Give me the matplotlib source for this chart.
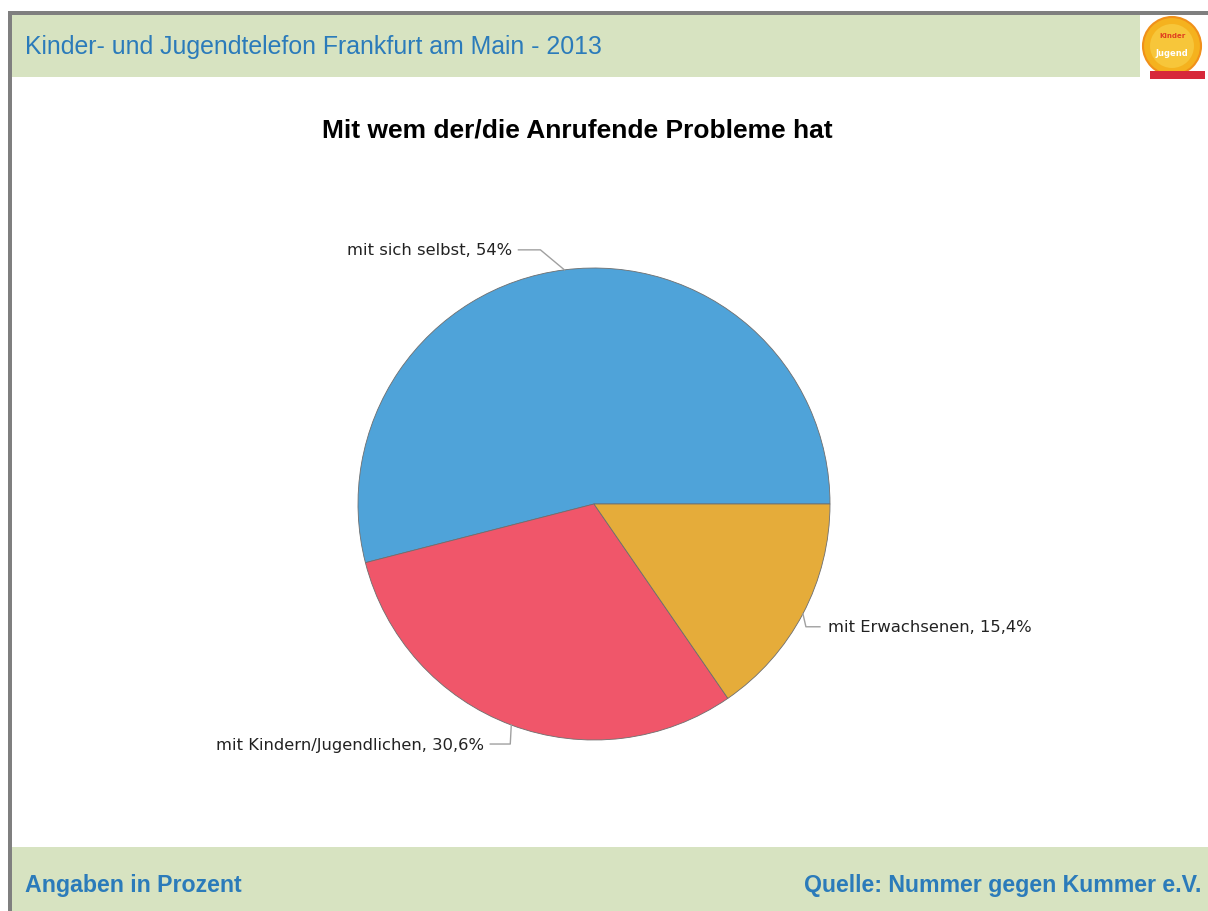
import numpy as np
import matplotlib
matplotlib.use("Agg")
import matplotlib.pyplot as plt
from matplotlib.patches import Rectangle, Circle

categories = ["mit sich selbst", "mit Kindern/Jugendlichen", "mit Erwachsenen"]
values = [54.0, 30.6, 15.4]
value_labels = ["54%", "30,6%", "15,4%"]
colors = ["#4FA3D9", "#F0566A", "#E5AC3A"]

header_text = "Kinder- und Jugendtelefon Frankfurt am Main - 2013"
title_text = "Mit wem der/die Anrufende Probleme hat"
footer_left = "Angaben in Prozent"
footer_right = "Quelle: Nummer gegen Kummer e.V."

W, H = 1208, 912

fig = plt.figure(figsize=(W / 100, H / 100), dpi=100)
ax = fig.add_axes([0, 0, 1, 1])
ax.set_xlim(0, W)
ax.set_ylim(0, H)
ax.set_aspect("equal")
ax.axis("off")

def Y(y):
    return H - y

# frame
ax.add_patch(Rectangle((8, 0), W - 8, Y(12), facecolor="#7F7F7F", edgecolor="none", zorder=0))
ax.add_patch(Rectangle((12, 0), W - 12, Y(16), facecolor="white", edgecolor="none", zorder=0.5))
# header band
ax.add_patch(Rectangle((12, Y(78)), 1128, 62, facecolor="#D7E3C1", edgecolor="none", zorder=1))
# footer band
ax.add_patch(Rectangle((12, 0), W - 12, Y(848), facecolor="#D7E3C1", edgecolor="none", zorder=1))

hcol = "#2B7BBA"
ax.text(25, Y(47), header_text, family="Liberation Sans", fontsize=17.9, color=hcol,
        va="center", ha="left", zorder=3)
ax.text(25, Y(886), footer_left, family="Liberation Sans", fontsize=16.7, fontweight="bold",
        color=hcol, va="center", ha="left", zorder=3)
ax.text(1201, Y(886), footer_right, family="Liberation Sans", fontsize=16.7, fontweight="bold",
        color=hcol, va="center", ha="right", zorder=3)

# logo
ax.add_patch(Circle((1172, Y(47)), 29, facecolor="#F5B21E", edgecolor="#F0901A", lw=1.5, zorder=3))
ax.add_patch(Circle((1172, Y(47)), 22, facecolor="#F7C63A", edgecolor="none", zorder=3.1))
ax.text(1172, Y(36), "Kinder", fontsize=5, color="#E04020", ha="center", va="center", zorder=4, fontweight="bold")
ax.text(1172, Y(53), "Jugend", fontsize=6, color="white", ha="center", va="center", zorder=4, fontweight="bold")
ax.add_patch(Rectangle((1150, Y(80)), 55, 8, facecolor="#D7283A", edgecolor="none", zorder=4))

# title
ax.text(577, Y(130), title_text, fontsize=19, fontweight="bold", color="black",
        family="Liberation Sans", ha="center", va="center")

# pie
cx, cy, r = 594, Y(505), 236
wedges, _ = ax.pie(values, colors=colors, startangle=0, counterclock=True,
                   center=(cx, cy), radius=r, frame=True,
                   wedgeprops=dict(edgecolor="#6E6E6E", linewidth=0.6))
ax.set_xlim(0, W)
ax.set_ylim(0, H)
ax.axis("off")

# leader lines: (elbow dx, dy), (end dx), text side
leaders = [((-24, 20), -46, "right"),
           ((-1, -19), -21, "right"),
           ((3, -13), 17, "left")]
for w, cat, vl, (elb, endx, side) in zip(wedges, categories, value_labels, leaders):
    ang = np.deg2rad((w.theta1 + w.theta2) / 2)
    ex, ey = cx + r * np.cos(ang), cy + r * np.sin(ang)
    bx, by = ex + elb[0], ey + elb[1]
    tx = ex + endx
    ax.plot([ex, bx, tx], [ey, by, by], color="#A0A0A0", lw=1, zorder=2)
    off = -6 if side == "right" else 8
    ax.text(tx + off, by, f"{cat}, {vl}", fontsize=11.8, family="DejaVu Sans",
            color="#222222", ha=side, va="center")

fig.savefig("out.png", dpi=100, facecolor="white")
